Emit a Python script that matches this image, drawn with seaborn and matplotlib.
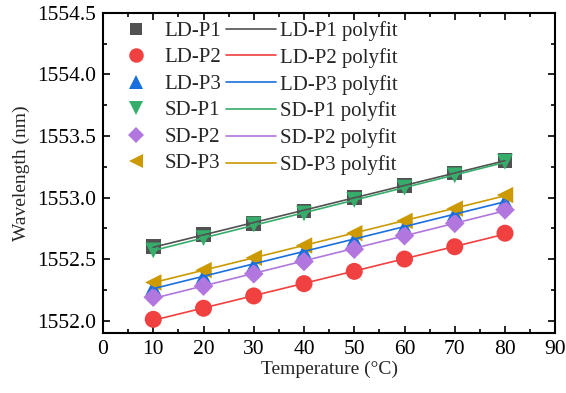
import numpy as np
import pandas as pd
import matplotlib
matplotlib.use("Agg")
import matplotlib.pyplot as plt
import seaborn as sns
from matplotlib.lines import Line2D
from matplotlib.legend_handler import HandlerLine2D
from matplotlib.ticker import MultipleLocator, FormatStrFormatter

temps = [10, 20, 30, 40, 50, 60, 70, 80]
ld_p1 = [1552.60, 1552.70, 1552.79, 1552.89, 1553.00, 1553.10, 1553.20, 1553.30]
ld_p2 = [1552.01, 1552.10, 1552.20, 1552.30, 1552.40, 1552.50, 1552.60, 1552.71]
ld_p3 = [1552.27, 1552.36, 1552.45, 1552.56, 1552.66, 1552.76, 1552.87, 1552.97]
sd_p1 = [1552.57, 1552.67, 1552.78, 1552.87, 1552.98, 1553.08, 1553.18, 1553.29]
sd_p2 = [1552.19, 1552.28, 1552.38, 1552.48, 1552.58, 1552.69, 1552.79, 1552.90]
sd_p3 = [1552.31, 1552.41, 1552.51, 1552.61, 1552.71, 1552.81, 1552.91, 1553.02]

names = ["LD-P1", "LD-P2", "LD-P3", "SD-P1", "SD-P2", "SD-P3"]
series = [ld_p1, ld_p2, ld_p3, sd_p1, sd_p2, sd_p3]
colors = ["#515151", "#F14040", "#1A6FDF", "#37AD6B", "#B177DE", "#CC9900"]
markers = ["s", "o", "^", "v", "D", "<"]
sizes = [110, 150, 130, 130, 100, 140]

sns.set_style("ticks")
plt.rcParams["font.family"] = ["Liberation Serif", "DejaVu Serif"]

fig = plt.figure(figsize=(5.66, 3.93), dpi=100)
ax = fig.add_axes([0.182, 0.153, 0.799, 0.814])

scatter_handles = []
line_handles = []
for name, vals, c, m, s in zip(names, series, colors, markers, sizes):
    df = pd.DataFrame({"T": temps, "W": vals})
    sns.scatterplot(data=df, x="T", y="W", ax=ax, color=c, marker=m, s=s,
                    edgecolor="none", linewidth=0, zorder=3, legend=False)
    scatter_handles.append(Line2D([], [], linestyle="none", marker=m, color=c,
                                  markersize=np.sqrt(s) * 0.85, markeredgewidth=0))
for name, vals, c in zip(names, series, colors):
    coef = np.polyfit(temps, vals, 1)
    fit = pd.DataFrame({"T": temps, "W": np.polyval(coef, temps)})
    sns.lineplot(data=fit, x="T", y="W", ax=ax, color=c, linewidth=1.2, zorder=4)
    line_handles.append(Line2D([], [], color=c, linewidth=1.2))

ax.set_xlim(0, 90)
ax.set_ylim(1551.9, 1554.5)
ax.xaxis.set_major_locator(MultipleLocator(10))
ax.xaxis.set_minor_locator(MultipleLocator(5))
ax.yaxis.set_major_locator(MultipleLocator(0.5))
ax.yaxis.set_minor_locator(MultipleLocator(0.25))
ax.yaxis.set_major_formatter(FormatStrFormatter("%.1f"))
ax.tick_params(which="both", direction="in", top=True, right=True,
               labelsize=15.5, width=1.2, colors="black")
ax.tick_params(which="major", length=5, pad=5)
ax.tick_params(which="minor", length=3)
for sp in ax.spines.values():
    sp.set_linewidth(1.5)
    sp.set_color("black")

ax.set_xlabel("Temperature (\u00b0C)", fontsize=14, labelpad=1)
ax.set_ylabel("Wavelength (nm)", fontsize=14, labelpad=5)

labels = names + [n + " polyfit" for n in names]
hmap = {h: HandlerLine2D(xpad=0.12) for h in scatter_handles}
leg = ax.legend(scatter_handles + line_handles, labels, ncol=2, frameon=False,
                loc="upper left", bbox_to_anchor=(108 / 566, 1 - 19 / 393),
                bbox_transform=fig.transFigure, fontsize=15,
                handlelength=2.4, handletextpad=0.22, columnspacing=0.2,
                labelspacing=0.33, borderaxespad=0, borderpad=0.1,
                handler_map=hmap)

fig.savefig("out.png", dpi=100)
